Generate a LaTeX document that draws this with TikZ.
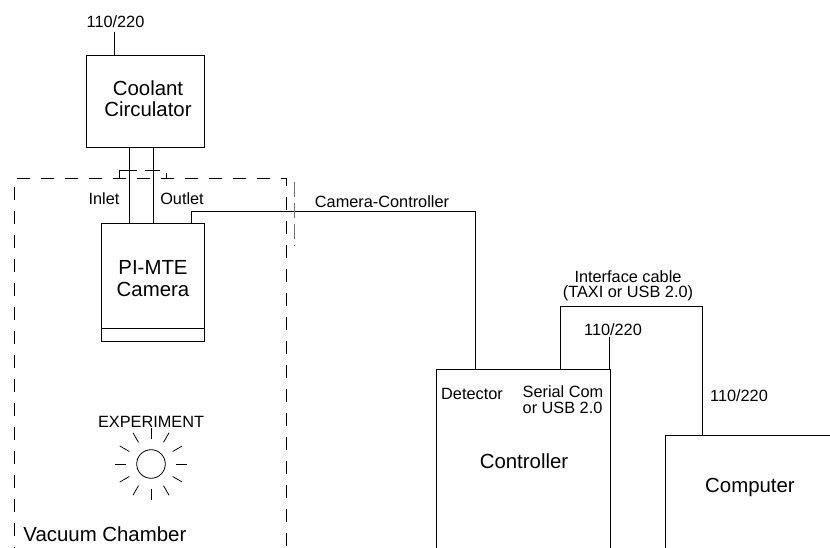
\documentclass[tikz,border=0pt]{standalone}
\usepackage{fontspec}
\setmainfont{Liberation Sans}
\begin{document}
\begin{tikzpicture}[x=1pt,y=-1pt,line width=0.9pt,
  box/.style={draw,line width=0.9pt,inner sep=0pt},
  small/.style={inner sep=0pt,font=\fontsize{16.3}{16}\selectfont},
  big/.style={inner sep=0pt,font=\fontsize{20.4}{21.5}\selectfont},
  chamber/.style={dash pattern=on 13pt off 11pt,line width=0.9pt}]
\clip (0,0) rectangle (830,548);
% boxes
\node[box,minimum width=118pt,minimum height=92pt] (cool) at (145.2,101) {};
\node[box,minimum width=102.6pt,minimum height=117.7pt] (cam) at (153,282.2) {};
\node[box,minimum width=174.7pt,minimum height=240pt] (ctrl) at (523.3,489) {};
\node[box,minimum width=220pt,minimum height=200pt] (comp) at (775,535) {};
\draw (cam.south west) ++(0,-13.3) coordinate (cl) -- (cl -| cam.east);
% texts
\node[big,align=center] (tcool) at (148,98.5) {Coolant\\Circulator};
\node[big,align=center,font=\fontsize{20.4}{22}\selectfont] (tcam) at (153,279) {PI-MTE\\Camera};
\node[small] (p1) at (115.5,22) {110/220};
\node[small] (inlet) at (104,199) {Inlet};
\node[small] (outlet) at (182,199) {Outlet};
\node[small] (cc) at (382,202) {Camera-Controller};
\node[small] (exp) at (151,422) {EXPERIMENT};
\node[big,anchor=west] (vac) at (23,534) {Vacuum Chamber};
\node[small] (det) at (472,394) {Detector};
\node[small,align=left,font=\fontsize{16.3}{15.5}\selectfont] (ser) at (563,399.5) {Serial Com\\or USB 2.0};
\node[big] (tctrl) at (524,461) {Controller};
\node[big] (tcomp) at (750,487) {Computer};
\node[small] (p2) at (613,330) {110/220};
\node[small] (p3) at (739,396) {110/220};
\node[small,align=center,font=\fontsize{16.3}{15}\selectfont] (ifc) at (628,286) {Interface cable\\(TAXI or USB 2.0)};
% coordinates for connectors
\coordinate (pw1) at (114.7,32);
\coordinate (in) at (129.5,0);
\coordinate (out) at (153.5,0);
\coordinate (cx) at (191,211.7);
\coordinate (cy) at (475,211.7);
\coordinate (ix) at (560,306.7);
\coordinate (iy) at (702.7,306.7);
\coordinate (pw2) at (609,337);
% connectors
\draw (pw1) -- (pw1 |- cool.north);
\draw (cool.south -| in) -- (cam.north -| in);
\draw (cool.south -| out) -- (cam.north -| out);
\draw (cam.north -| cx) -- (cx) -- (cy) -- (ctrl.north -| cy);
\draw (ctrl.north -| ix) -- (ix) -- (iy) -- (comp.north -| iy);
\draw (pw2) -- (pw2 |- ctrl.north);
% flanges
\draw (119.3,178.3) -- (119.3,170) -- (136.7,170);
\draw (144.7,170) -- (160,170);
\draw (166,173) -- (166,178.3);
% vacuum chamber
\draw[chamber] (14.7,560) -- (14.7,178.3) -- (286.7,178.3) -- (286.7,560);
\draw[dash pattern=on 15pt off 6pt,draw=black!55] (294.5,182) -- (294.5,246);
% sun
\node[draw,circle,minimum size=28.6pt,inner sep=0pt,line width=0.8pt] (sun) at (151,464) {};
\foreach \a in {0,30,...,330}
  \draw[line width=0.8pt] (sun.center) ++(\a:25) -- ++(\a:11);
\end{tikzpicture}
\end{document}
